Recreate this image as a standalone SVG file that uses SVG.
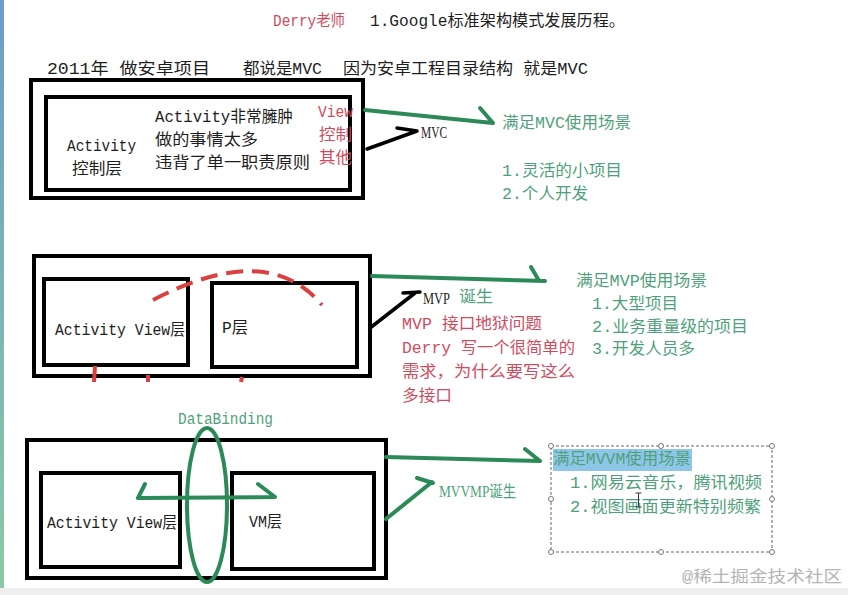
<svg xmlns="http://www.w3.org/2000/svg" width="848" height="595" viewBox="0 0 848 595">
  <defs>
    <linearGradient id="edge" x1="0" y1="0" x2="0" y2="1">
      <stop offset="0" stop-color="#6f9cc6"/>
      <stop offset="1" stop-color="#8ccaa4"/>
    </linearGradient>
    <style>
      .t{font-family:"Liberation Mono","Noto Sans CJK SC",monospace;font-size:16px;dominant-baseline:central}
      .blk{fill:#1e1e1e}
      .red{fill:#cf4c5e}
      .grn{fill:#4fa17c}
      .gry{fill:#b4b4b4}
      .box{fill:none;stroke:#000;stroke-width:4}
      .gl{fill:none;stroke:#2b8a57;stroke-width:4;stroke-linecap:round;stroke-linejoin:round}
      .bl{fill:none;stroke:#000;stroke-width:3.5;stroke-linecap:round;stroke-linejoin:round}
      .rd{fill:none;stroke:#d8413f;stroke-width:4}
      .hd{fill:#fff;stroke:#777;stroke-width:1}
    </style>
  </defs>
  <rect width="848" height="595" fill="#ffffff"/>
  <rect x="0" y="0" width="4" height="595" fill="url(#edge)"/>
  <rect x="0" y="588" width="848" height="7" fill="#efefef"/>

  <g id="header">
    <text class="t red" x="273" y="22" textLength="72" lengthAdjust="spacingAndGlyphs">Derry老师</text>
    <text class="t blk" x="370" y="22" textLength="255" lengthAdjust="spacingAndGlyphs">1.Google标准架构模式发展历程。</text>
    <text class="t blk" x="47" y="70" textLength="163" lengthAdjust="spacingAndGlyphs">2011年 做安卓项目</text>
    <text class="t blk" x="243" y="70" textLength="79" lengthAdjust="spacingAndGlyphs">都说是MVC</text>
    <text class="t blk" x="343" y="70" textLength="245" lengthAdjust="spacingAndGlyphs">因为安卓工程目录结构 就是MVC</text>
  </g>

  <g id="mvc">
    <rect class="box" x="31" y="80" width="332" height="118"/>
    <rect class="box" x="46" y="97" width="304" height="93"/>
    <text class="t blk" x="67" y="147" textLength="69" lengthAdjust="spacingAndGlyphs">Activity</text>
    <text class="t blk" x="72" y="170" textLength="50" lengthAdjust="spacingAndGlyphs">控制层</text>
    <text class="t blk" x="155" y="118" textLength="138" lengthAdjust="spacingAndGlyphs">Activity非常臃肿</text>
    <text class="t blk" x="155" y="141" textLength="103" lengthAdjust="spacingAndGlyphs">做的事情太多</text>
    <text class="t blk" x="155" y="164" textLength="155" lengthAdjust="spacingAndGlyphs">违背了单一职责原则</text>
    <text class="t red" x="318" y="113" textLength="35" lengthAdjust="spacingAndGlyphs">View</text>
    <text class="t red" x="319" y="136" textLength="33" lengthAdjust="spacingAndGlyphs">控制</text>
    <text class="t red" x="319" y="159" textLength="33" lengthAdjust="spacingAndGlyphs">其他</text>
  </g>
  <g id="mvc-label">
    <text class="t blk" x="421" y="132" textLength="26" lengthAdjust="spacingAndGlyphs" style="font-family:'Liberation Serif',serif">MVC</text>
  </g>
  <g id="mvc-scene">
    <text class="t grn" x="502" y="124" textLength="129" lengthAdjust="spacingAndGlyphs">满足MVC使用场景</text>
    <text class="t grn" x="502" y="172" textLength="120" lengthAdjust="spacingAndGlyphs">1.灵活的小项目</text>
    <text class="t grn" x="502" y="195" textLength="86" lengthAdjust="spacingAndGlyphs">2.个人开发</text>
  </g>

  <g id="mvp">
    <rect class="box" x="34" y="256" width="336" height="120"/>
    <rect class="box" x="44" y="279" width="144" height="86"/>
    <rect class="box" x="212" y="283" width="145" height="84"/>
    <text class="t blk" x="55" y="331" textLength="130" lengthAdjust="spacingAndGlyphs">Activity View层</text>
    <text class="t blk" x="222" y="329" textLength="26" lengthAdjust="spacingAndGlyphs">P层</text>
    <path class="rd" d="M153,300 Q268,240 322,305" stroke-dasharray="17 9"/>
    <path class="rd" d="M95,366 L94,382 M148,375 L148,382 M242,377 L241,382"/>
  </g>
  <g id="mvp-label">
    <text class="t blk" x="423" y="298" textLength="27" lengthAdjust="spacingAndGlyphs" style="font-family:'Liberation Serif',serif">MVP</text>
    <text class="t grn" x="459" y="298" textLength="34" lengthAdjust="spacingAndGlyphs">诞生</text>
    <text class="t red" x="402" y="325" textLength="140" lengthAdjust="spacingAndGlyphs">MVP 接口地狱问题</text>
    <text class="t red" x="402" y="349" textLength="173" lengthAdjust="spacingAndGlyphs">Derry 写一个很简单的</text>
    <text class="t red" x="402" y="373" textLength="173" lengthAdjust="spacingAndGlyphs">需求，为什么要写这么</text>
    <text class="t red" x="402" y="397" textLength="50" lengthAdjust="spacingAndGlyphs">多接口</text>
  </g>
  <g id="mvp-scene">
    <text class="t grn" x="576" y="282" textLength="131" lengthAdjust="spacingAndGlyphs">满足MVP使用场景</text>
    <text class="t grn" x="592" y="305" textLength="86" lengthAdjust="spacingAndGlyphs">1.大型项目</text>
    <text class="t grn" x="592" y="328" textLength="156" lengthAdjust="spacingAndGlyphs">2.业务重量级的项目</text>
    <text class="t grn" x="592" y="350" textLength="103" lengthAdjust="spacingAndGlyphs">3.开发人员多</text>
  </g>

  <g id="mvvm">
    <rect class="box" x="27" y="440" width="359" height="138"/>
    <rect class="box" x="41" y="473" width="139" height="94"/>
    <rect class="box" x="232" y="473" width="142" height="96"/>
    <text class="t blk" x="47" y="524" textLength="130" lengthAdjust="spacingAndGlyphs">Activity View层</text>
    <text class="t blk" x="249" y="523" textLength="33" lengthAdjust="spacingAndGlyphs">VM层</text>
  </g>
  <g id="databinding">
    <text class="t grn" x="178" y="420" textLength="95" lengthAdjust="spacingAndGlyphs">DataBinding</text>
    <ellipse cx="207" cy="505" rx="20" ry="77" fill="none" stroke="#2b8a57" stroke-width="4"/>
    <path class="gl" d="M145,484 L138,498 L275,497 M258,484 L275,497"/>
  </g>
  <g id="mvvm-label">
    <text class="t grn" x="439" y="491" textLength="77" lengthAdjust="spacingAndGlyphs" style="font-family:'Liberation Serif','Noto Sans CJK SC',serif">MVVMP诞生</text>
  </g>
  <g id="mvvm-scene">
    <rect x="551" y="446" width="221" height="106" fill="none" stroke="#666" stroke-width="1" stroke-dasharray="3 2"/>
    <circle class="hd" cx="551" cy="446" r="2.5"/>
    <circle class="hd" cx="661" cy="446" r="2.5"/>
    <circle class="hd" cx="772" cy="446" r="2.5"/>
    <circle class="hd" cx="551" cy="499" r="2.5"/>
    <circle class="hd" cx="772" cy="499" r="2.5"/>
    <circle class="hd" cx="551" cy="552" r="2.5"/>
    <circle class="hd" cx="661" cy="552" r="2.5"/>
    <circle class="hd" cx="772" cy="552" r="2.5"/>
    <rect x="553" y="449" width="139" height="22" fill="#8ec6e8"/>
    <text class="t grn" x="553" y="460" textLength="138" lengthAdjust="spacingAndGlyphs">满足MVVM使用场景</text>
    <text class="t grn" x="570" y="484" textLength="192" lengthAdjust="spacingAndGlyphs">1.网易云音乐，腾讯视频</text>
    <text class="t grn" x="570" y="508" textLength="191" lengthAdjust="spacingAndGlyphs">2.视图画面更新特别频繁</text>
    <path d="M635.5,493 L641.5,493 M638.5,493 L638.5,507 M635.5,507 L641.5,507" stroke="#333" stroke-width="1" fill="none"/>
  </g>

  <g id="connectors">
    <path class="gl" d="M365,110 L493,123 M480,108 L493,123"/>
    <path class="bl" d="M367,149 L417,131 M397,128 L417,131"/>
    <path class="gl" d="M372,276 L545,281 M531,267 L538,279"/>
    <path class="bl" d="M370,328 L415,293 M403,293 L420,292"/>
    <path class="gl" d="M386,457 L540,461 M525,449 L540,461"/>
    <path class="gl" d="M386,519 L432,482 M417,478 L433,483"/>
  </g>

  <g id="watermark">
    <text class="t gry" x="682" y="578" textLength="160" lengthAdjust="spacingAndGlyphs">@稀土掘金技术社区</text>
  </g>
</svg>
